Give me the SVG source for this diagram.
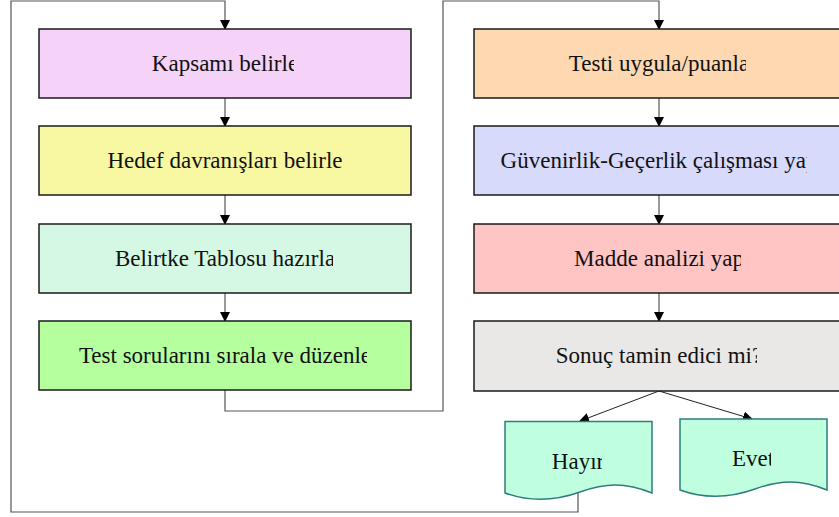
<svg xmlns="http://www.w3.org/2000/svg" width="839" height="517" viewBox="0 0 839 517">
<style>
.box{stroke:#1a1a1a;stroke-width:1.5}
.doc{fill:#bfffdf;stroke:#2e7d7d;stroke-width:1.5}
.lbl{font-size:23px;fill:#111;text-anchor:middle}
.c{fill:none;stroke:#555;stroke-width:1.2}
.cb{fill:none;stroke:#222;stroke-width:1}
</style>
<defs>
<marker id="ah" markerWidth="10" markerHeight="10" refX="9" refY="5" orient="auto" markerUnits="userSpaceOnUse" viewBox="0 0 10 10"><path d="M0,0 L10,5 L0,10 z" fill="#000"/></marker>
<clipPath id="k1"><rect x="0" y="0" width="294" height="517"/></clipPath>
<clipPath id="k2"><rect x="0" y="0" width="368" height="517"/></clipPath>
<clipPath id="k3"><rect x="0" y="0" width="333" height="517"/></clipPath>
<clipPath id="k4"><rect x="0" y="0" width="367" height="517"/></clipPath>
<clipPath id="k5"><rect x="0" y="0" width="746" height="517"/></clipPath>
<clipPath id="k6"><rect x="0" y="0" width="807" height="517"/></clipPath>
<clipPath id="k7"><rect x="0" y="0" width="741" height="517"/></clipPath>
<clipPath id="k8"><rect x="0" y="0" width="757" height="517"/></clipPath>
<clipPath id="k9"><rect x="0" y="0" width="602" height="517"/></clipPath>
<clipPath id="k10"><rect x="0" y="0" width="771" height="517"/></clipPath>
</defs>
<rect width="839" height="517" fill="#fff"/>
<g id="connectors">
<path class="c" d="M578,493 V512 H11 V1 H225 V29" marker-end="url(#ah)"/>
<path class="c" d="M225,390 V411 H443 V1 H659 V29" marker-end="url(#ah)"/>
<path class="c" d="M225,98 V126" marker-end="url(#ah)"/>
<path class="c" d="M225,195 V224" marker-end="url(#ah)"/>
<path class="c" d="M225,293 V321" marker-end="url(#ah)"/>
<path class="c" d="M659,98 V126" marker-end="url(#ah)"/>
<path class="c" d="M659,195 V224" marker-end="url(#ah)"/>
<path class="c" d="M659,293 V321" marker-end="url(#ah)"/>
<path class="cb" d="M659,391 L580,421" marker-end="url(#ah)"/>
<path class="cb" d="M659,391 L752,419" marker-end="url(#ah)"/>
</g>
<g font-family="Liberation Serif, Times New Roman, serif">
<g id="n1"><rect class="box" x="39" y="29" width="372" height="69" fill="#f5d2f8"/><text class="lbl" x="225" y="71" clip-path="url(#k1)">Kapsamı belirle</text></g>
<g id="n2"><rect class="box" x="39" y="126" width="372" height="69" fill="#f8f8a2"/><text class="lbl" x="225" y="168" clip-path="url(#k2)">Hedef davranışları belirle</text></g>
<g id="n3"><rect class="box" x="39" y="224" width="372" height="69" fill="#d4f8e4"/><text class="lbl" x="225" y="266" clip-path="url(#k3)">Belirtke Tablosu hazırla</text></g>
<g id="n4"><rect class="box" x="39" y="321" width="372" height="69" fill="#b6ff9e"/><text class="lbl" x="225" y="363" clip-path="url(#k4)">Test sorularını sırala ve düzenle</text></g>
<g id="n5"><rect class="box" x="474" y="29" width="372" height="69" fill="#fdd8b0"/><text class="lbl" x="659" y="71" clip-path="url(#k5)">Testi uygula/puanla</text></g>
<g id="n6"><rect class="box" x="474" y="126" width="372" height="69" fill="#d8dafc"/><text class="lbl" x="659" y="168" clip-path="url(#k6)">Güvenirlik-Geçerlik çalışması yap</text></g>
<g id="n7"><rect class="box" x="474" y="224" width="372" height="69" fill="#ffc4c4"/><text class="lbl" x="659" y="266" clip-path="url(#k7)">Madde analizi yap</text></g>
<g id="n8"><rect class="box" x="474" y="321" width="372" height="70" fill="#eae8e6"/><text class="lbl" x="659" y="363" clip-path="url(#k8)">Sonuç tamin edici mi?</text></g>
<g id="n9"><path class="doc" d="M505,421.5 H652 V493 C625,482 605,483 580,492 C555,501 530,502 505,493 Z"/><text class="lbl" x="578" y="469" clip-path="url(#k9)">Hayır</text></g>
<g id="n10"><path class="doc" d="M680,419 H827 V490 C800,479 780,480 755,489 C730,498 705,499 680,490 Z"/><text class="lbl" x="753" y="466" clip-path="url(#k10)">Evet</text></g>
</g>
</svg>
